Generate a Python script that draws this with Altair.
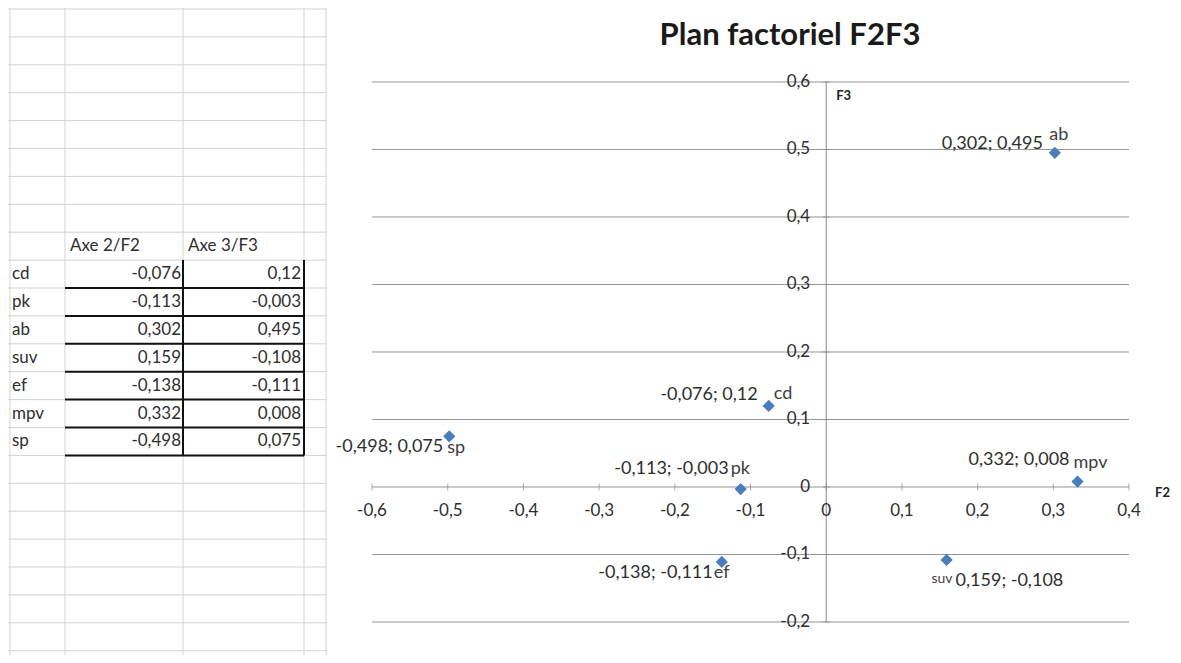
import altair as alt
import pandas as pd

# ---------------- data ----------------
NAMES = ["cd", "pk", "ab", "suv", "ef", "mpv", "sp"]
F2 = [-0.076, -0.113, 0.302, 0.159, -0.138, 0.332, -0.498]
F3 = [0.12, -0.003, 0.495, -0.108, -0.111, 0.008, 0.075]
COL_HEADERS = ["Axe 2/F2", "Axe 3/F3"]
X_TICKS = [-0.6, -0.5, -0.4, -0.3, -0.2, -0.1, 0.0, 0.1, 0.2, 0.3, 0.4]
X_TICK_LABELS = ["-0,6", "-0,5", "-0,4", "-0,3", "-0,2", "-0,1", "0", "0,1", "0,2", "0,3", "0,4"]
Y_TICKS = [-0.2, -0.1, 0.0, 0.1, 0.2, 0.3, 0.4, 0.5, 0.6]
Y_TICK_LABELS = ["-0,2", "-0,1", "0", "0,1", "0,2", "0,3", "0,4", "0,5", "0,6"]
TITLE = "Plan factoriel F2F3"
X_TITLE = "F2"
Y_TITLE = "F3"


def fr(v):
    return repr(v).replace(".", ",")


# ---------------- layout / style ----------------
W, H = 1165, 647
FONT = "Lato"
BLUE = "#4A7EBB"
GRID = "#959595"
TXT = "#2e2e2e"
SHEET = "#d3d3d3"

XS = alt.Scale(domain=[-1.0809, 0.4581], nice=False, zero=False)
YS = alt.Scale(domain=[-0.2489, 0.7096], nice=False, zero=False)

# label placement: (align, dx, dy) for the coordinate text and for the name
LABEL_LAYOUT = {
    "ab": (("right", -12, -9), ("center", 4, -18)),
    "cd": (("right", -11, -11), ("left", 5, -12)),
    "sp": (("right", -6, 11), ("left", -2, 12)),
    "pk": (("right", -12, -20), ("left", -10, -20)),
    "ef": (("right", -9, 11), ("left", -8, 11)),
    "mpv": (("right", -8, -22), ("left", -4, -19)),
    "suv": (("left", 9, 21), ("right", 6, 19)),
}

# ---------------- spreadsheet (left) ----------------
ROW_H = 27.9
ROW0 = 1.0
N_ROWS = 24
HEADER_ROW = 8
COL_EDGES = [2, 57, 175, 296, 318]
TS_X = alt.Scale(domain=[0, W], nice=False, zero=False)
TS_Y = alt.Scale(domain=[-ROW0 / ROW_H, (H - ROW0) / ROW_H], nice=False, zero=False, reverse=True)

rows_df = pd.DataFrame({"r": list(range(N_ROWS))})
cols_df = pd.DataFrame({"c": COL_EDGES})

sheet_h = alt.Chart(rows_df).mark_rule(color=SHEET, strokeWidth=1).encode(
    y=alt.Y("r:Q", scale=TS_Y, axis=None),
    x=alt.value(0), x2=alt.value(COL_EDGES[-1] + 1),
)
sheet_v = alt.Chart(cols_df).mark_rule(color=SHEET, strokeWidth=1).encode(
    x=alt.X("c:Q", scale=TS_X, axis=None),
    y=alt.value(0), y2=alt.value(H),
)

tab = pd.DataFrame({
    "name": NAMES,
    "a2": [fr(v) for v in F2],
    "a3": [fr(v) for v in F3],
    "row": [HEADER_ROW + 1 + i + 0.5 for i in range(len(NAMES))],
    "bottom": [HEADER_ROW + 2 + i for i in range(len(NAMES))],
})
hdr = pd.DataFrame({"h": COL_HEADERS, "row": [HEADER_ROW + 0.5] * 2,
                    "c": [COL_EDGES[1] + 5, COL_EDGES[2] + 5]})

tstyle = dict(font=FONT, fontSize=17, color=TXT, baseline="middle")
t_names = alt.Chart(tab).mark_text(align="left", **tstyle).encode(
    y=alt.Y("row:Q", scale=TS_Y, axis=None), x=alt.value(COL_EDGES[0] + 2), text="name:N")
t_a2 = alt.Chart(tab).mark_text(align="right", **tstyle).encode(
    y=alt.Y("row:Q", scale=TS_Y, axis=None), x=alt.value(COL_EDGES[2] - 2), text="a2:N")
t_a3 = alt.Chart(tab).mark_text(align="right", **tstyle).encode(
    y=alt.Y("row:Q", scale=TS_Y, axis=None), x=alt.value(COL_EDGES[3] - 3), text="a3:N")
t_hdr = alt.Chart(hdr).mark_text(align="left", **tstyle).encode(
    y=alt.Y("row:Q", scale=TS_Y, axis=None), x=alt.X("c:Q", scale=TS_X, axis=None), text="h:N")

border_h = alt.Chart(tab).mark_rule(color="#111111", strokeWidth=2).encode(
    y=alt.Y("bottom:Q", scale=TS_Y, axis=None),
    x=alt.value(COL_EDGES[1]), x2=alt.value(COL_EDGES[3]),
)
bv_df = pd.DataFrame({"c": [COL_EDGES[2], COL_EDGES[3]],
                      "r1": [HEADER_ROW + 1] * 2, "r2": [HEADER_ROW + 1 + len(NAMES)] * 2})
border_v = alt.Chart(bv_df).mark_rule(color="#111111", strokeWidth=2).encode(
    x=alt.X("c:Q", scale=TS_X, axis=None),
    y=alt.Y("r1:Q", scale=TS_Y, axis=None), y2="r2:Q",
)

sheet = alt.layer(sheet_h, sheet_v, border_h, border_v, t_names, t_a2, t_a3, t_hdr)

# ---------------- scatter (right) ----------------
pts = pd.DataFrame({
    "name": NAMES, "F2": F2, "F3": F3,
    "coord": [f"{fr(a)}; {fr(b)}" for a, b in zip(F2, F3)],
})
ydf = pd.DataFrame({"v": Y_TICKS, "lab": Y_TICK_LABELS})
xdf = pd.DataFrame({"v": X_TICKS, "lab": X_TICK_LABELS})

grid = alt.Chart(ydf).mark_rule(color=GRID, strokeWidth=1).encode(
    y=alt.Y("v:Q", scale=YS, axis=None),
    x=alt.XDatum(X_TICKS[0], scale=XS, axis=None), x2=alt.X2Datum(X_TICKS[-1]),
)
yaxis_line = alt.Chart(pd.DataFrame({"k": [0]})).mark_rule(color="#8a8a8a", strokeWidth=1).encode(
    x=alt.XDatum(0, scale=XS, axis=None),
    y=alt.YDatum(Y_TICKS[0], scale=YS, axis=None), y2=alt.Y2Datum(Y_TICKS[-1]),
)
xticks = alt.Chart(xdf).mark_tick(orient="vertical", size=7, thickness=1, color="#8a8a8a").encode(
    x=alt.X("v:Q", scale=XS, axis=None), y=alt.YDatum(0, scale=YS, axis=None))
yticks = alt.Chart(ydf).mark_tick(orient="horizontal", size=7, thickness=1, color="#8a8a8a").encode(
    y=alt.Y("v:Q", scale=YS, axis=None), x=alt.XDatum(0, scale=XS, axis=None))

lstyle = dict(font=FONT, fontSize=17, color=TXT)
ylabels = alt.Chart(ydf).mark_text(align="right", baseline="middle", dx=-16, **lstyle).encode(
    y=alt.Y("v:Q", scale=YS, axis=None), x=alt.XDatum(0, scale=XS, axis=None), text="lab:N")
xlabels = alt.Chart(xdf).mark_text(align="center", baseline="middle", dy=24, **lstyle).encode(
    x=alt.X("v:Q", scale=XS, axis=None), y=alt.YDatum(0, scale=YS, axis=None), text="lab:N")

points = alt.Chart(pts).mark_point(shape="diamond", filled=True, size=150, color=BLUE, opacity=1).encode(
    x=alt.X("F2:Q", scale=XS, axis=None), y=alt.Y("F3:Q", scale=YS, axis=None))

label_layers = []
for n in NAMES:
    (ca, cdx, cdy), (na, ndx, ndy) = LABEL_LAYOUT[n]
    base = alt.Chart(pts).transform_filter(alt.datum.name == n)
    label_layers.append(base.mark_text(align=ca, baseline="middle", dx=cdx, dy=cdy,
                                       font=FONT, fontSize=18, color=TXT).encode(
        x=alt.X("F2:Q", scale=XS, axis=None), y=alt.Y("F3:Q", scale=YS, axis=None), text="coord:N"))
    label_layers.append(base.mark_text(align=na, baseline="middle", dx=ndx, dy=ndy,
                                       font=FONT, fontSize=14 if n == "suv" else 18, color="#404040").encode(
        x=alt.X("F2:Q", scale=XS, axis=None), y=alt.Y("F3:Q", scale=YS, axis=None), text="name:N"))

tdf = pd.DataFrame({"t": [TITLE], "xt": [X_TITLE], "yt": [Y_TITLE]})
title = alt.Chart(tdf).mark_text(font=FONT, fontSize=31, fontWeight="bold", color="#1a1a1a",
                                 align="center", baseline="middle").encode(
    x=alt.value(782), y=alt.value(28), text="t:N")
ytitle = alt.Chart(tdf).mark_text(font=FONT, fontSize=13, fontWeight="bold", color="#222222",
                                  align="left", baseline="middle", dx=10, dy=14).encode(
    x=alt.XDatum(0, scale=XS, axis=None), y=alt.YDatum(Y_TICKS[-1], scale=YS, axis=None), text="yt:N")
xtitle = alt.Chart(tdf).mark_text(font=FONT, fontSize=13, fontWeight="bold", color="#222222",
                                  align="left", baseline="middle", dx=26, dy=6).encode(
    x=alt.XDatum(X_TICKS[-1], scale=XS, axis=None), y=alt.YDatum(0, scale=YS, axis=None), text="xt:N")

scatter = alt.layer(grid, yaxis_line, xticks, yticks, ylabels, xlabels, points,
                    *label_layers, title, ytitle, xtitle)

chart = alt.layer(sheet, scatter).resolve_scale(x="independent", y="independent").properties(
    width=W, height=H, padding=0, autosize=alt.AutoSizeParams(type="none"),
    background="white",
).configure_view(stroke=None)

chart.save("out.html", embed_options={"renderer": "svg", "actions": False})
